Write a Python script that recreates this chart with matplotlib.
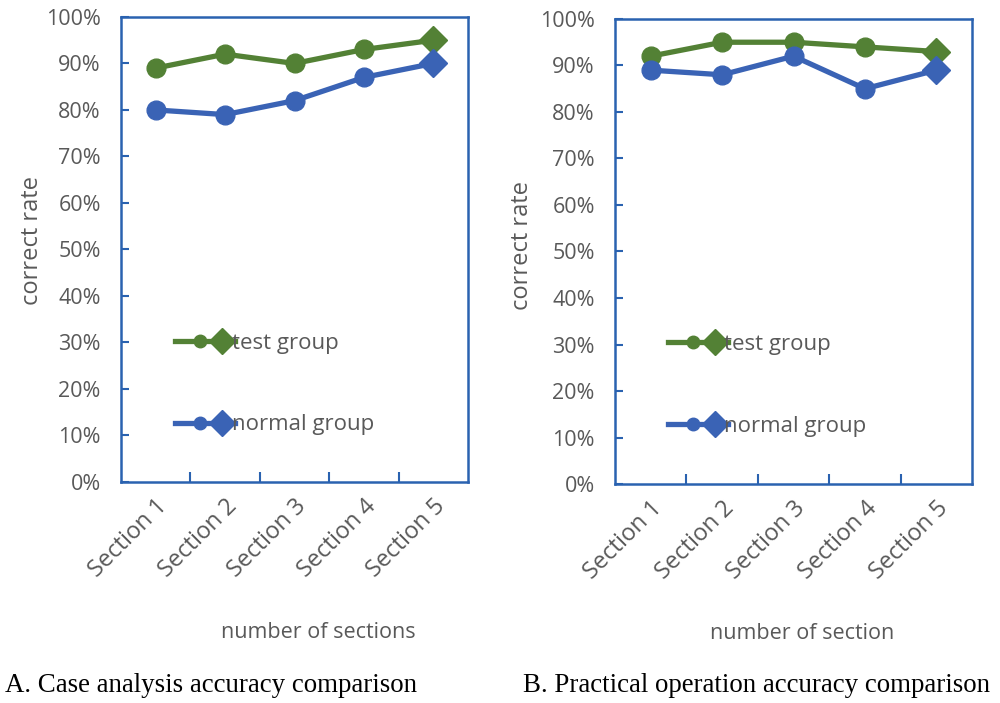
import matplotlib
matplotlib.use("Agg")
import matplotlib.pyplot as plt
from matplotlib.legend_handler import HandlerBase
from matplotlib.lines import Line2D
from matplotlib.ticker import PercentFormatter

plt.rcParams['font.family'] = ['Open Sans', 'DejaVu Sans']

# data
sections = ["Section 1", "Section 2", "Section 3", "Section 4", "Section 5"]
case_test = [89, 92, 90, 93, 95]
case_normal = [80, 79, 82, 87, 90]
oper_test = [92, 95, 95, 94, 93]
oper_normal = [89, 88, 92, 85, 89]

GREEN = "#538135"
BLUE = "#3A63B5"
SPINE = "#2A62B0"
GRAY = "#595959"


class GroupHandler(HandlerBase):
    """line + small circle + big diamond, like the excel legend"""
    def create_artists(self, legend, orig_handle, xdescent, ydescent,
                       width, height, fontsize, trans):
        c = orig_handle.get_color()
        y = height / 2 - ydescent
        line = Line2D([-xdescent, width - xdescent], [y, y], color=c, lw=3.8,
                      transform=trans)
        dot = Line2D([0.42 * width - xdescent], [y], marker='o', ms=9, color=c,
                     linestyle='none', transform=trans)
        dia = Line2D([0.78 * width - xdescent], [y], marker='D', ms=13, color=c,
                     linestyle='none', transform=trans)
        return [line, dot, dia]


def draw_panel(ax, test, normal, xlabel, xlab_pos, ylab_pos, leg_pos):
    x = list(range(1, len(sections) + 1))
    handles = []
    for vals, color in [(test, GREEN), (normal, BLUE)]:
        ln, = ax.plot(x, vals, color=color, lw=3.8, marker='o', ms=13.5,
                      markevery=list(range(len(vals) - 1)))
        ax.plot(x[-1:], vals[-1:], color=color, marker='D', ms=14,
                linestyle='none')
        handles.append(ln)

    ax.set_xlim(0.5, len(sections) + 0.5)
    ax.set_ylim(0, 100)
    ax.set_yticks(range(0, 101, 10))
    ax.yaxis.set_major_formatter(PercentFormatter(decimals=0))
    ax.tick_params(axis='y', direction='in', length=6, width=1.5,
                   color=SPINE, labelsize=15.5, labelcolor=GRAY, pad=14.5)

    ax.set_xticks([i + 0.5 for i in x[:-1]])
    ax.set_xticklabels([])
    ax.tick_params(axis='x', which='major', direction='in', length=7,
                   width=1.5, color=SPINE)
    ax.set_xticks(x, minor=True)
    ax.set_xticklabels(sections, minor=True, rotation=45, ha='right',
                       rotation_mode='anchor', fontsize=17, color=GRAY)
    ax.tick_params(axis='x', which='minor', length=0, pad=9)

    for s in ax.spines.values():
        s.set_color(SPINE)
        s.set_linewidth(1.8)

    ax.set_xlabel(xlabel, fontsize=15.5, color=GRAY)
    ax.xaxis.set_label_coords(*xlab_pos)
    ax.set_ylabel("correct rate", fontsize=17, color=GRAY)
    ax.yaxis.set_label_coords(*ylab_pos)

    leg = ax.legend(handles, ["test group", "normal group"],
                    handler_map={Line2D: GroupHandler()},
                    loc='lower left', bbox_to_anchor=leg_pos,
                    frameon=False, fontsize=16, labelspacing=2.72,
                    handlelength=2.7, handletextpad=-0.15, borderaxespad=0)
    for t in leg.get_texts():
        t.set_color(GRAY)


fig = plt.figure(figsize=(10, 7.03), dpi=100)
ax1 = fig.add_axes([0.121, 0.3144, 0.347, 0.6615])
ax2 = fig.add_axes([0.615, 0.3115, 0.357, 0.6615])

draw_panel(ax1, case_test, case_normal, "number of sections",
           (0.568, -0.301), (-0.222, 0.52), (0.13, 0.081))
draw_panel(ax2, oper_test, oper_normal, "number of section",
           (0.524, -0.299), (-0.228, 0.512), (0.123, 0.083))

serif = ['Liberation Serif', 'DejaVu Serif']
fig.text(0.005, 0.016, "A. Case analysis accuracy comparison",
         family=serif, fontsize=19.4, color='black')
fig.text(0.523, 0.016, "B. Practical operation accuracy comparison",
         family=serif, fontsize=19.4, color='black')

fig.savefig("out.png", dpi=100)
